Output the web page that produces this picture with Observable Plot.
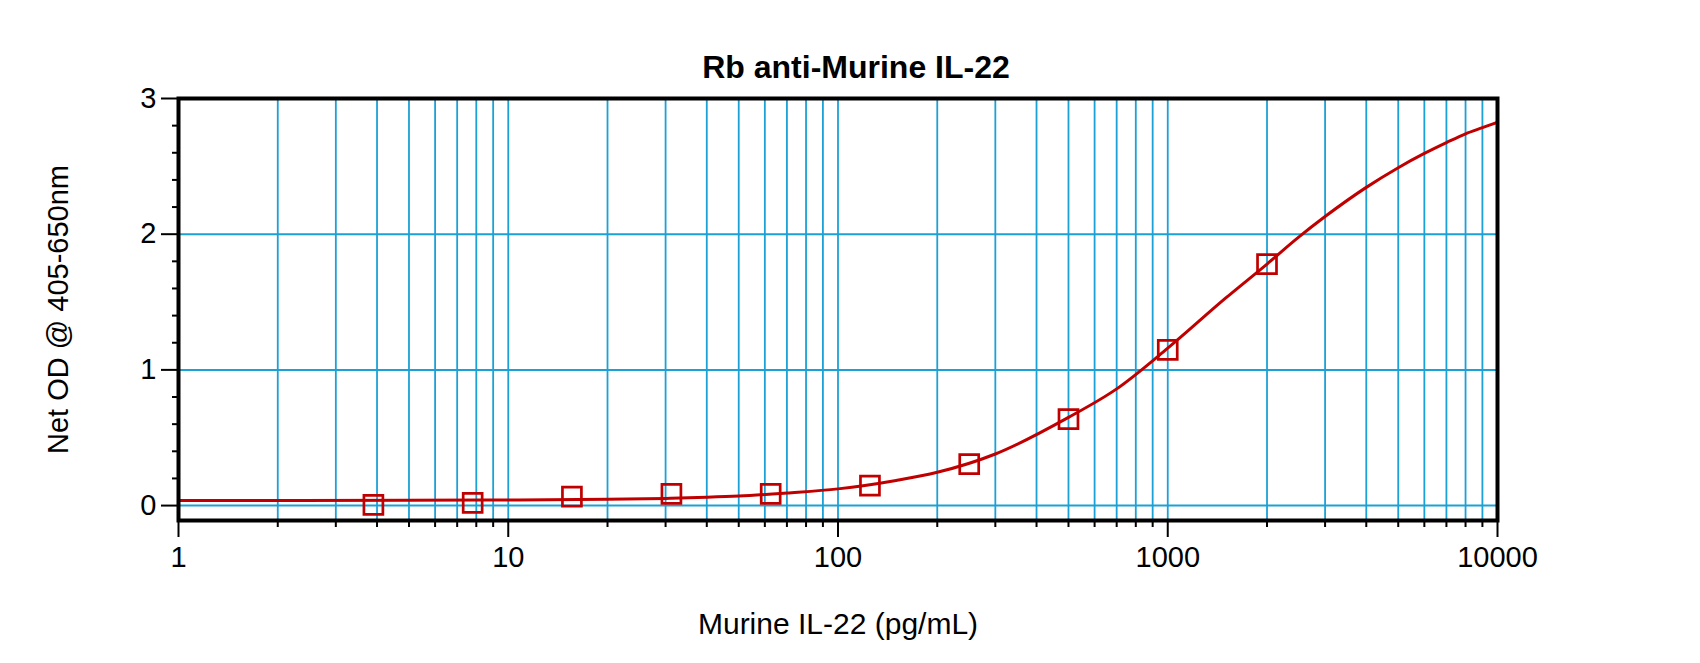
<!DOCTYPE html>
<html><head><meta charset="utf-8">
<script src="https://cdn.jsdelivr.net/npm/d3@7"></script>
<script src="https://cdn.jsdelivr.net/npm/@observablehq/plot@0.6"></script>
<style>body{margin:0;background:#fff}</style>
</head><body><div id="chart"></div>
<script>
const title = "Rb anti-Murine IL-22";
const xLabel = "Murine IL-22 (pg/mL)";
const yLabel = "Net OD @ 405-650nm";

// standards (pg/mL) and measured net OD
const concentrations = [3.9, 7.8, 15.6, 31.25, 62.5, 125, 250, 500, 1000, 2000];
const netOD = [0.005, 0.02, 0.066, 0.086, 0.086, 0.147, 0.306, 0.637, 1.147, 1.78];

// fitted curve
const curveX = [1, 5, 10, 20, 30, 40, 50, 70, 100, 150, 200, 300, 500, 700, 1000, 1500, 2000, 2500, 3000, 4000, 5000, 6000, 7000, 8000, 9000, 10000];
const curveY = [0.037, 0.039, 0.041, 0.046, 0.053, 0.061, 0.070, 0.093, 0.123, 0.185, 0.245, 0.38, 0.65, 0.86, 1.16, 1.53, 1.78, 1.98, 2.13, 2.345, 2.49, 2.595, 2.675, 2.74, 2.785, 2.825];

const xMajorTicks = [1, 10, 100, 1000, 10000];
const xMinorTicks = [2,3,4,5,6,7,8,9, 20,30,40,50,60,70,80,90, 200,300,400,500,600,700,800,900, 2000,3000,4000,5000,6000,7000,8000,9000];
const xGrid = [2,3,4,5,6,7,8,9,10, 20,30,40,50,60,70,80,90,100, 200,300,400,500,600,700,800,900,1000, 2000,3000,4000,5000,6000,7000,8000,9000];
const yMajorTicks = [0, 1, 2, 3];
const yMinorTicks = [0.2,0.4,0.6,0.8, 1.2,1.4,1.6,1.8, 2.2,2.4,2.6,2.8];
const yGrid = [0, 1, 2];

const points = concentrations.map((c, i) => ({x: c, y: netOD[i]}));
const curve = curveX.map((c, i) => ({x: c, y: curveY[i]}));

const red = "#c00000";
const blue = "#1ba1d6";
const font = "'Liberation Sans', Arial, sans-serif";

const chart = Plot.plot({
  width: 1700,
  height: 663,
  marginLeft: 178,
  marginRight: 203,
  marginTop: 98,
  marginBottom: 143,
  style: {fontFamily: font, background: "white", color: "black", overflow: "visible"},
  x: {type: "log", domain: [1, 10000]},
  y: {domain: [-0.11, 3]},
  marks: [
    Plot.ruleX(xGrid, {stroke: blue, strokeWidth: 1.8}),
    Plot.ruleY(yGrid, {stroke: blue, strokeWidth: 2}),
    Plot.line(curve, {x: "x", y: "y", stroke: red, strokeWidth: 3, curve: "monotone-x"}),
    Plot.dot(points, {x: "x", y: "y", symbol: "square", r: 10.7, stroke: red, strokeWidth: 2.7, fill: "none"}),
    Plot.axisX({ticks: xMajorTicks, tickSize: 17, tickPadding: 9, strokeWidth: 2, fontSize: 29, tickFormat: d => String(d), label: null}),
    Plot.axisX({ticks: xMinorTicks, tickSize: 7, strokeWidth: 2, tickFormat: () => "", label: null}),
    Plot.axisY({ticks: yMajorTicks, tickSize: 17, tickPadding: 5, strokeWidth: 2, fontSize: 29, tickFormat: d => String(d), label: null}),
    Plot.axisY({ticks: yMinorTicks, tickSize: 6, strokeWidth: 2, tickFormat: () => "", label: null}),
    Plot.frame({stroke: "black", strokeWidth: 4}),
    Plot.text([title], {text: d => d, frameAnchor: "top", textAnchor: "middle", lineAnchor: "middle", dx: 18, dy: -31, fontSize: 32, fontWeight: "bold"}),
    Plot.text([xLabel], {text: d => d, frameAnchor: "bottom", textAnchor: "middle", lineAnchor: "middle", dy: 104, fontSize: 30}),
    Plot.text([yLabel], {text: d => d, frameAnchor: "left", textAnchor: "middle", lineAnchor: "middle", rotate: -90, dx: -120, fontSize: 29})
  ]
});
document.getElementById("chart").appendChild(chart);
</script>
</body></html>
